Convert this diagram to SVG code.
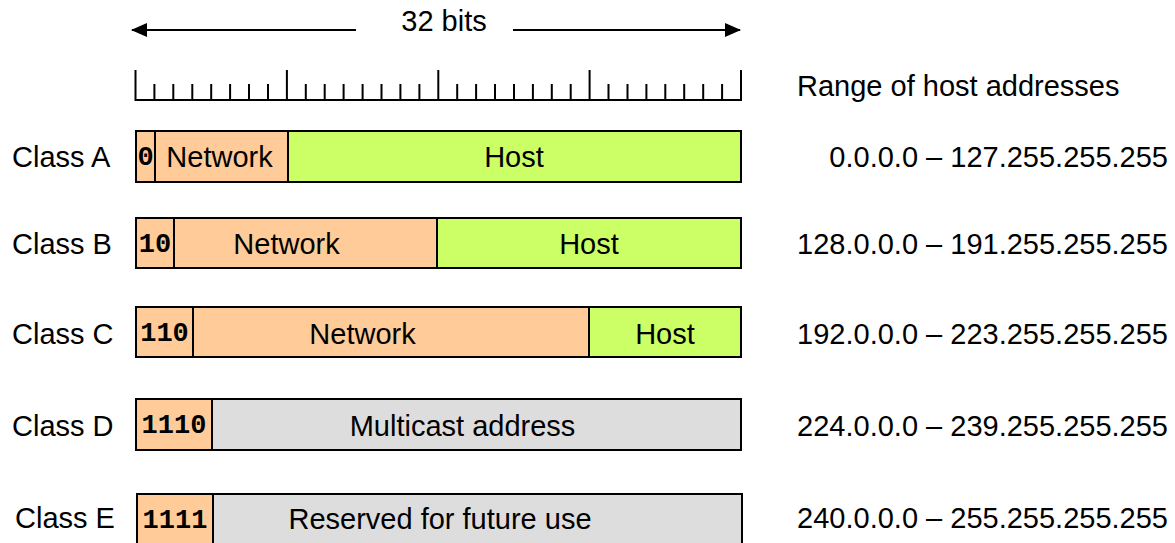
<svg xmlns="http://www.w3.org/2000/svg" width="1175" height="543" viewBox="0 0 1175 543">
<defs>
<style>
.t{font-family:"Liberation Sans",Arial,sans-serif;font-size:29px;fill:#000}
.m{font-family:"Liberation Mono","Courier New",monospace;font-size:27px;font-weight:bold;fill:#000}
.net{fill:#FFCC99;stroke:#000;stroke-width:2}
.host{fill:#CCFF66;stroke:#000;stroke-width:2}
.gray{fill:#DDDDDD;stroke:#000;stroke-width:2}
.ln{stroke:#000;stroke-width:2;fill:none}
</style>
<marker id="ah" viewBox="0 0 16 14" refX="15" refY="7" markerWidth="16" markerHeight="14" markerUnits="userSpaceOnUse" orient="auto">
<path d="M0,0 L16,7 L0,14 Z" fill="#000"/>
</marker>
</defs>
<rect width="1175" height="543" fill="#fff"/>

<g id="connectors">
<line class="ln" x1="356" y1="30" x2="132" y2="30" marker-end="url(#ah)"/>
<line class="ln" x1="513" y1="30" x2="740" y2="30" marker-end="url(#ah)"/>
</g>
<text class="t" x="444" y="31" text-anchor="middle">32 bits</text>

<g id="ruler">
<path class="ln" d="M135.5,70 V100 H741 V70"/>
<path class="ln" d="M286.9,70 V100 M438.3,70 V100 M589.6,70 V100"/>
<path class="ln" d="M154.4,84 V100 M173.3,84 V100 M192.3,84 V100 M211.2,84 V100 M230.1,84 V100 M249.0,84 V100 M268.0,84 V100
M305.8,84 V100 M324.7,84 V100 M343.6,84 V100 M362.6,84 V100 M381.5,84 V100 M400.4,84 V100 M419.4,84 V100
M457.2,84 V100 M476.1,84 V100 M495.0,84 V100 M514.0,84 V100 M532.9,84 V100 M551.8,84 V100 M570.7,84 V100
M608.5,84 V100 M627.5,84 V100 M646.4,84 V100 M665.3,84 V100 M684.2,84 V100 M703.2,84 V100 M722.1,84 V100"/>
</g>
<text class="t" x="797" y="96">Range of host addresses</text>

<g id="classA">
<text class="t" x="12" y="167">Class A</text>
<rect class="net" x="136" y="131" width="19" height="51"/>
<rect class="net" x="155" y="131" width="133" height="51"/>
<rect class="host" x="288" y="131" width="453" height="51"/>
<text class="m" x="145.5" y="165" text-anchor="middle">0</text>
<text class="t" x="219.5" y="167" text-anchor="middle">Network</text>
<text class="t" x="514" y="167" text-anchor="middle">Host</text>
<text class="t" x="1168" y="167" text-anchor="end">0.0.0.0 – 127.255.255.255</text>
</g>

<g id="classB">
<text class="t" x="12" y="254">Class B</text>
<rect class="net" x="136" y="218" width="38" height="50"/>
<rect class="net" x="174" y="218" width="263" height="50"/>
<rect class="host" x="437" y="218" width="304" height="50"/>
<text class="m" x="155" y="252" text-anchor="middle">10</text>
<text class="t" x="286.5" y="254" text-anchor="middle">Network</text>
<text class="t" x="589" y="254" text-anchor="middle">Host</text>
<text class="t" x="1168" y="254" text-anchor="end">128.0.0.0 – 191.255.255.255</text>
</g>

<g id="classC">
<text class="t" x="12" y="344">Class C</text>
<rect class="net" x="136" y="307" width="57" height="50"/>
<rect class="net" x="193" y="307" width="396" height="50"/>
<rect class="host" x="589" y="307" width="152" height="50"/>
<text class="m" x="164.5" y="341" text-anchor="middle">110</text>
<text class="t" x="362.5" y="344" text-anchor="middle">Network</text>
<text class="t" x="665" y="344" text-anchor="middle">Host</text>
<text class="t" x="1168" y="344" text-anchor="end">192.0.0.0 – 223.255.255.255</text>
</g>

<g id="classD">
<text class="t" x="12" y="436">Class D</text>
<rect class="net" x="136" y="399" width="76" height="51"/>
<rect class="gray" x="212" y="399" width="529" height="51"/>
<text class="m" x="174" y="433" text-anchor="middle">1110</text>
<text class="t" x="462.5" y="436" text-anchor="middle">Multicast address</text>
<text class="t" x="1168" y="436" text-anchor="end">224.0.0.0 – 239.255.255.255</text>
</g>

<g id="classE">
<text class="t" x="15" y="528">Class E</text>
<rect class="net" x="137" y="494" width="76" height="51"/>
<rect class="gray" x="213" y="494" width="529" height="51"/>
<text class="m" x="175" y="528" text-anchor="middle">1111</text>
<text class="t" x="440" y="529" text-anchor="middle">Reserved for future use</text>
<text class="t" x="1168" y="528" text-anchor="end">240.0.0.0 – 255.255.255.255</text>
</g>
</svg>
